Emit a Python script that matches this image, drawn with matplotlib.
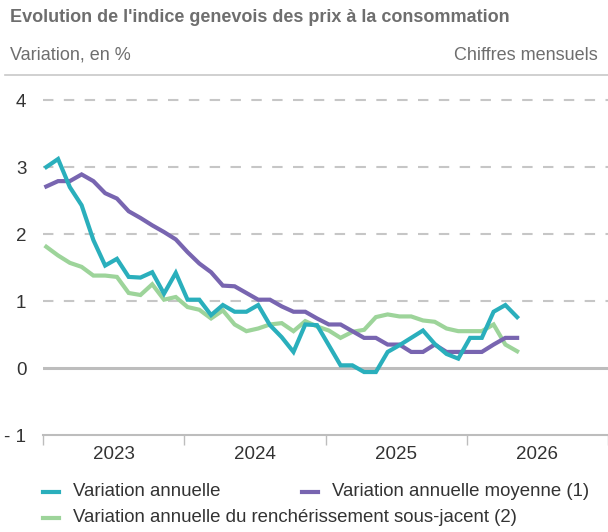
import matplotlib
matplotlib.use("Agg")
import matplotlib.pyplot as plt
from matplotlib.lines import Line2D

plt.rcParams["font.family"] = ["Liberation Sans", "DejaVu Sans"]

# Monthly values, January 2023 onwards
annual = [3.0, 3.12, 2.7, 2.43, 1.91, 1.53, 1.63, 1.36, 1.35, 1.43, 1.11, 1.42,
          1.02, 1.02, 0.79, 0.94, 0.84, 0.84, 0.94, 0.64, 0.46, 0.24, 0.65, 0.64,
          0.34, 0.04, 0.04, -0.06, -0.06, 0.24, 0.34, 0.45, 0.56, 0.36, 0.21, 0.14,
          0.45, 0.45, 0.84, 0.94, 0.76]
annual_mean = [2.71, 2.79, 2.79, 2.89, 2.79, 2.61, 2.53, 2.34, 2.24, 2.13, 2.03, 1.92,
               1.73, 1.56, 1.43, 1.23, 1.22, 1.12, 1.02, 1.02, 0.92, 0.84, 0.84, 0.74,
               0.65, 0.65, 0.55, 0.45, 0.45, 0.35, 0.35, 0.24, 0.24, 0.35, 0.24, 0.24,
               0.24, 0.24, 0.35, 0.45, 0.45]
underlying = [1.81, 1.68, 1.57, 1.51, 1.38, 1.38, 1.36, 1.12, 1.09, 1.25, 1.02, 1.06,
              0.91, 0.87, 0.74, 0.86, 0.65, 0.55, 0.59, 0.65, 0.67, 0.55, 0.70, 0.62,
              0.56, 0.45, 0.54, 0.57, 0.76, 0.80, 0.77, 0.77, 0.71, 0.69, 0.59, 0.55,
              0.55, 0.55, 0.65, 0.35, 0.25]
years = ["2023", "2024", "2025", "2026"]
y_ticks = [-1, 0, 1, 2, 3, 4]
y_tick_labels = ["- 1", "0", "1", "2", "3", "4"]
series_names = ["Variation annuelle", "Variation annuelle moyenne (1)",
                "Variation annuelle du renchérissement sous-jacent (2)"]

CYAN = "#2aafbc"
PURPLE = "#7865b0"
GREEN = "#9dd49a"
GREY_TEXT = "#6e6e6e"
DARK = "#333333"

fig = plt.figure(figsize=(6.08, 5.32), dpi=100)
W, H = 608, 532

ax = fig.add_axes([43 / W, 1 - 435 / H, (W - 43) / W, (435 - 86) / H])
ax.set_xlim(0, 48)
ax.set_ylim(-1, 4.21)

xs = [i + 0.28 for i in range(len(annual))]
ax.plot(xs, underlying, color=GREEN, lw=3, solid_joinstyle="miter", zorder=3)
ax.plot(xs, annual_mean, color=PURPLE, lw=3, solid_joinstyle="miter", zorder=4)
ax.plot(xs, annual, color=CYAN, lw=3, solid_joinstyle="miter", zorder=5)

for v in [1, 2, 3, 4]:
    ax.axhline(v, color="#c6c6c6", lw=1.5, ls=(0, (5, 5)), zorder=1)
ax.axhline(0, color="#bdbdbd", lw=2.2, zorder=2)

for s in ["top", "right", "left"]:
    ax.spines[s].set_visible(False)
ax.spines["bottom"].set_color("#bdbdbd")
ax.spines["bottom"].set_linewidth(1.5)

ax.set_xticks([0, 12, 24, 36, 48])
ax.set_xticklabels([])
ax.tick_params(axis="x", length=7, width=1, color="#bdbdbd", direction="out")
ax.set_xticks([6, 18, 30, 42], minor=True)
ax.set_xticklabels(years, minor=True)
ax.tick_params(axis="x", which="minor", length=0, pad=8, labelsize=13.5, labelcolor=DARK)

ax.set_yticks(y_ticks)
ax.set_yticklabels(y_tick_labels)
ax.tick_params(axis="y", length=0, pad=12, labelsize=13.5, labelcolor=DARK)

fig.text(10 / W, 1 - 18 / H, "Evolution de l'indice genevois des prix à la consommation",
         fontsize=13, fontweight="bold", color=GREY_TEXT, ha="left", va="center")
fig.text(10 / W, 1 - 55 / H, "Variation, en %", fontsize=13, color=GREY_TEXT,
         ha="left", va="center")
fig.text(598 / W, 1 - 55 / H, "Chiffres mensuels", fontsize=13, color=GREY_TEXT,
         ha="right", va="center")
fig.add_artist(Line2D([5 / W, 1], [1 - 75 / H, 1 - 75 / H], color="#c8c8c8", lw=1.2))

legend_items = [(43, 492, CYAN, series_names[0]),
                (302, 492, PURPLE, series_names[1]),
                (43, 518, GREEN, series_names[2])]
for x0, y0, col, name in legend_items:
    fig.add_artist(Line2D([x0 / W, (x0 + 16) / W], [1 - y0 / H, 1 - y0 / H], color=col, lw=3))
    fig.text((x0 + 30) / W, 1 - y0 / H, name, fontsize=13.4, color=DARK, ha="left", va="center")

fig.savefig("out.png", dpi=100)
